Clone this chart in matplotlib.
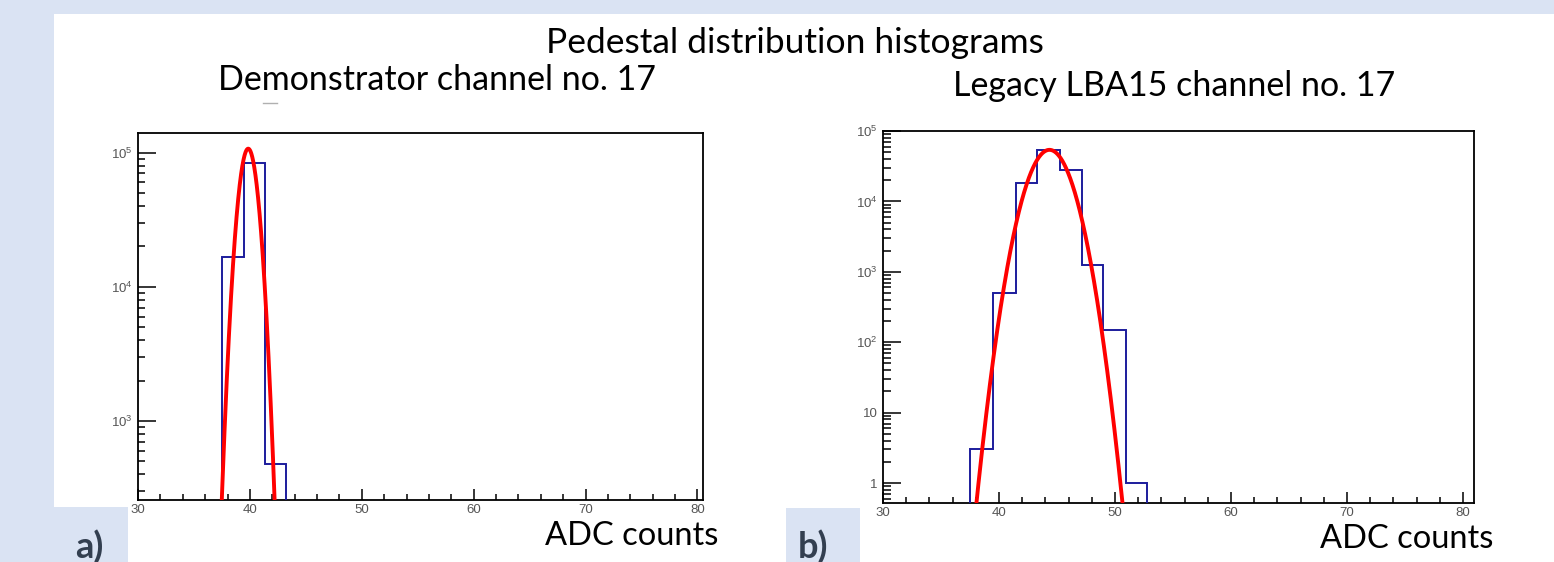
import numpy as np
import matplotlib.pyplot as plt
from matplotlib.patches import Rectangle
from matplotlib.lines import Line2D

W, H = 1554, 562

# panel a) demonstrator, channel 17
edges_a = [37.55, 39.5, 41.35, 43.2]
counts_a = [1.66e4, 8.4e4, 480]
fit_a = (1.07e5, 39.85, 0.68)     # amplitude, mean, sigma

# panel b) legacy LBA15, channel 17
edges_b = [37.5, 39.5, 41.45, 43.25, 45.25, 47.15, 49.0, 50.95, 52.8]
counts_b = [3, 500, 1.8e4, 5.3e4, 2.8e4, 1260, 148, 1]
fit_b = (5.4e4, 44.35, 1.31)

x_ticks = [30, 40, 50, 60, 70, 80]
y_ticks_a = [1e3, 1e4, 1e5]
y_labels_a = [r'$\mathregular{10^{3}}$', r'$\mathregular{10^{4}}$', r'$\mathregular{10^{5}}$']
y_ticks_b = [1, 10, 1e2, 1e3, 1e4, 1e5]
y_labels_b = ['1', '10', r'$\mathregular{10^{2}}$', r'$\mathregular{10^{3}}$',
              r'$\mathregular{10^{4}}$', r'$\mathregular{10^{5}}$']

BG = '#dae3f3'
BLUE = '#1c1c9c'
RED = '#ff0000'
TXT_FONT = ['Lato', 'DejaVu Sans']
TICK_FONT = ['Liberation Sans', 'DejaVu Sans']
plt.rcParams['mathtext.fontset'] = 'custom'
plt.rcParams['mathtext.rm'] = 'Liberation Sans'


def px_box(x0, y0, x1, y1):
    # pixel box (top-left origin) -> figure fraction [l, b, w, h]
    return [x0 / W, 1 - y1 / H, (x1 - x0) / W, (y1 - y0) / H]


fig = plt.figure(figsize=(W / 100, H / 100), dpi=100)
fig.patch.set_facecolor(BG)

# slide background pieces
for (x0, y0, x1, y1, c) in [(54, 14, W, H, 'white'),
                            (0, 507, 128, H, BG),
                            (786, 508, 860, H, BG)]:
    l, b, w, h = px_box(x0, y0, x1, y1)
    fig.patches.append(Rectangle((l, b), w, h, transform=fig.transFigure,
                                 facecolor=c, edgecolor='none', zorder=-10))


def draw_panel(box, edges, counts, fit, xlim, ylim, yt, yl, ymaj, ymin):
    ax = fig.add_axes(px_box(*box), zorder=5)
    ax.set_facecolor('none')
    ax.set_yscale('log')
    ax.set_xlim(*xlim)
    ax.set_ylim(*ylim)

    ax.stairs(counts, edges, baseline=1e-3, color=BLUE, lw=1.4, zorder=3)
    amp, mu, sig = fit
    xs = np.linspace(mu - 6 * sig, mu + 6 * sig, 600)
    ax.plot(xs, amp * np.exp(-0.5 * ((xs - mu) / sig) ** 2), color=RED, lw=2.8, zorder=4)

    ax.set_xticks(x_ticks)
    ax.set_xticks(np.arange(32, 81, 2), minor=True)
    ax.set_yticks(yt)
    ax.set_yticklabels(yl)
    minors = [m * 10.0 ** e for e in range(-1, 6) for m in range(2, 10)]
    ax.set_yticks([v for v in minors if ylim[0] < v < ylim[1]], minor=True)
    ax.yaxis.set_minor_formatter(plt.NullFormatter())

    ax.tick_params(axis='x', which='major', direction='in', length=8, width=1.1, pad=3)
    ax.tick_params(axis='x', which='minor', direction='in', length=4, width=1.1)
    ax.tick_params(axis='y', which='major', direction='in', length=ymaj, width=1.1, pad=4)
    ax.tick_params(axis='y', which='minor', direction='in', length=ymin, width=1.1)
    for lab in ax.get_xticklabels() + ax.get_yticklabels():
        lab.set_fontfamily(TICK_FONT)
        lab.set_fontsize(9.5)
        lab.set_color('#555555')
    for sp in ax.spines.values():
        sp.set_linewidth(1.3)
    return ax


draw_panel((138, 133, 703, 500), edges_a, counts_a, fit_a,
           (30, 80.5), (258, 1.4e5), y_ticks_a, y_labels_a, 13, 5)
draw_panel((883, 131, 1474, 503), edges_b, counts_b, fit_b,
           (30, 80.95), (0.52, 1.0e5), y_ticks_b, y_labels_b, 13, 6)


def ftext(x, y, s, ha='center', va='center', **kw):
    fig.text(x / W, 1 - y / H, s, ha=ha, va=va, **kw)


ftext(795, 43, 'Pedestal distribution histograms', fontsize=25.5, family=TXT_FONT, color='black')
ftext(437, 80, 'Demonstrator channel no. 17', fontsize=24.5, family=TXT_FONT, color='black')
ftext(1174, 86, 'Legacy LBA15 channel no. 17', fontsize=24.5, family=TXT_FONT, color='black')
ftext(632, 545, 'ADC counts', va='baseline', fontsize=23.5, family=TXT_FONT, color='black')
ftext(1407, 548, 'ADC counts', va='baseline', fontsize=23.5, family=TXT_FONT, color='black')
ftext(75, 558, 'a)', ha='left', va='baseline', fontsize=26, family=TXT_FONT,
      color='#333f50', weight='bold')
ftext(798, 558, 'b)', ha='left', va='baseline', fontsize=26, family=TXT_FONT,
      color='#333f50', weight='bold')

# small stray dash under the first subtitle
fig.add_artist(Line2D([263 / W, 277 / W], [1 - 103 / H] * 2, color='#b0b0b0', lw=1))

fig.savefig('out.png', dpi=100, facecolor=BG)
